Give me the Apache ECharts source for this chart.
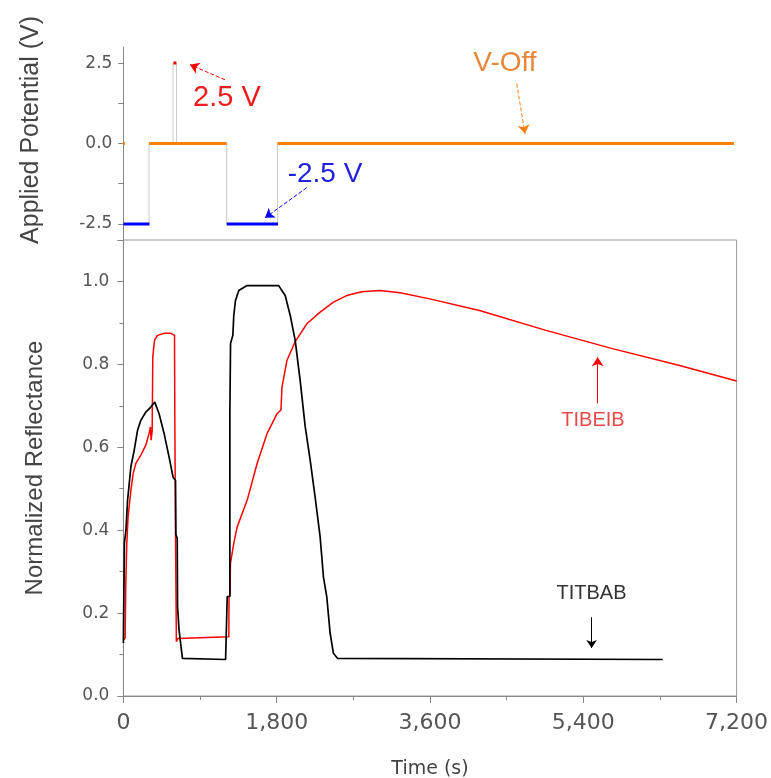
<!DOCTYPE html>
<html>
<head>
<meta charset="utf-8">
<script src="https://cdn.jsdelivr.net/npm/echarts@6/dist/echarts.min.js"></script>
<style>
  html, body { margin: 0; padding: 0; background: #fff; }
  #charts { width: 771px; height: 778px; }
</style>
</head>
<body>
<div id="charts"></div>
<script>
// applied potential: full step trace (thin gray) and the coloured levels on top
const potentialTrace = [[0, -2.5], [300, -2.5], [300, 0], [582, 0], [582, 2.5], [623, 2.5], [623, 0],
    [1213, 0], [1213, -2.5], [1809, -2.5], [1809, 0], [7169, 0]];
const offSpans = [[0, 20], [300, 1213], [1809, 7169]];      // 0 V
const negSpans = [[0, 306], [1213, 1815]];                   // -2.5 V
const posSpans = [[588, 622]];                               // 2.5 V

// normalized reflectance, [time (s), value]
const tibeib = [[0, 0.135], [20, 0.14], [29, 0.28], [40, 0.368], [55, 0.432], [88, 0.496], [115, 0.537],
    [146, 0.561], [205, 0.581], [263, 0.605], [302, 0.634], [318, 0.649], [325, 0.617], [338, 0.64],
    [345, 0.818], [365, 0.858], [400, 0.87], [480, 0.875], [560, 0.875], [600, 0.87], [604, 0.665],
    [612, 0.388], [622, 0.131], [640, 0.139], [1238, 0.143], [1240, 0.239], [1252, 0.245], [1257, 0.32],
    [1296, 0.368], [1336, 0.408], [1453, 0.472], [1570, 0.561], [1687, 0.633], [1804, 0.681], [1850, 0.69],
    [1862, 0.745], [1921, 0.81], [2018, 0.855], [2154, 0.898], [2310, 0.926], [2466, 0.95], [2622, 0.966],
    [2800, 0.975], [3012, 0.978], [3250, 0.973], [3597, 0.958], [4181, 0.93], [4962, 0.882], [5741, 0.838],
    [6520, 0.798], [7200, 0.76]];
const titbab = [[0, 0.128], [10, 0.13], [12, 0.37], [30, 0.40], [49, 0.472], [88, 0.553], [127, 0.593],
    [166, 0.641], [205, 0.665], [263, 0.685], [322, 0.697], [368, 0.709], [419, 0.681], [477, 0.634],
    [536, 0.577], [583, 0.528], [612, 0.52], [616, 0.39], [632, 0.38], [636, 0.215], [653, 0.16], [693, 0.091],
    [1200, 0.088], [1219, 0.087], [1219, 0.24], [1250, 0.24], [1250, 0.68], [1258, 0.68], [1258, 0.85],
    [1285, 0.87], [1296, 0.918], [1316, 0.954], [1355, 0.978], [1452, 0.99], [1823, 0.99], [1900, 0.966],
    [1959, 0.918], [2017, 0.858], [2076, 0.76], [2135, 0.649], [2193, 0.569], [2251, 0.48], [2310, 0.384],
    [2349, 0.287], [2388, 0.239], [2427, 0.152], [2466, 0.103], [2513, 0.091], [6333, 0.088]];

const xTicks = [0, 1800, 3600, 5400, 7200];
const potentialLabels = [-2.5, 0, 2.5];
const potentialTicks = [-2.5, -1.25, 0, 1.25, 2.5];

var chartDom = document.getElementById('charts');
var myChart = echarts.init(chartDom);

spansToData = (spans, level) => {
    let data = [];
    spans.forEach(s => {
        data = [...data, [s[0], level], [s[1], level], ['-', '-']];
    });
    return data;
};

const gray = '#888';
const tickFont = {fontFamily: 'DejaVu Sans', color: '#555'};
const nameFont = {fontFamily: 'Liberation Sans', color: '#444'};

textMark = (coord, text, color, size) => ({
    coord: coord,
    label: {show: true, position: 'inside', formatter: text, color: color, fontSize: size, fontFamily: 'Liberation Sans'}
});
arrow = (from, to, color, type) => [
    {coord: from, lineStyle: {color: color, type: type, width: 1}},
    {coord: to}
];

var option = {
    animation: false,
    grid: [
        {left: 123.4, top: 47, width: 613.2, height: 193, outerBoundsMode: 'none'},
        {left: 123.4, top: 240, width: 613.2, height: 456, show: true, borderColor: '#999', borderWidth: 1, outerBoundsMode: 'none'}
    ],
    xAxis: [
        {gridIndex: 0, type: 'value', min: 0, max: 7200, show: false},
        {
            gridIndex: 1, type: 'value', min: 0, max: 7200, interval: 1800,
            name: 'Time (s)', nameLocation: 'middle', nameGap: 64,
            nameTextStyle: {fontFamily: 'DejaVu Sans', fontSize: 19, color: '#444'},
            axisLine: {show: true, lineStyle: {color: gray}},
            axisTick: {show: true, length: 7, lineStyle: {color: gray}},
            minorTick: {show: true, splitNumber: 2, length: 4, lineStyle: {color: gray}},
            splitLine: {show: false},
            axisLabel: {...tickFont, fontSize: 22, margin: 16, formatter: v => v.toLocaleString('en-US')}
        }
    ],
    yAxis: [
        {
            gridIndex: 0, type: 'value', min: -3, max: 3,
            name: 'Applied Potential (V)', nameLocation: 'middle', nameGap: 80,
            nameTextStyle: {...nameFont, fontSize: 25, padding: [0, 0, 0, 27]},
            axisLine: {show: true, lineStyle: {color: gray}},
            axisTick: {show: true, length: 5, customValues: potentialTicks, lineStyle: {color: gray}},
            splitLine: {show: false},
            axisLabel: {...tickFont, fontSize: 17, margin: 11, customValues: potentialLabels, formatter: v => v.toFixed(1)}
        },
        {
            gridIndex: 1, type: 'value', min: 0, max: 1.1, interval: 0.2,
            name: 'Normalized Reflectance', nameLocation: 'middle', nameGap: 76,
            nameTextStyle: {...nameFont, fontSize: 24},
            axisLine: {show: true, lineStyle: {color: gray}},
            axisTick: {show: true, length: 6, lineStyle: {color: gray}},
            minorTick: {show: true, splitNumber: 2, length: 4, lineStyle: {color: gray}},
            splitLine: {show: false},
            axisLabel: {...tickFont, fontSize: 17, margin: 14, showMaxLabel: false, formatter: v => v.toFixed(1)}
        }
    ],
    series: [
        {
            name: 'trace', type: 'line', xAxisIndex: 0, yAxisIndex: 0, data: potentialTrace,
            showSymbol: false, lineStyle: {color: '#c8c8c8', width: 1}, silent: true,
            markPoint: {
                symbol: 'circle', symbolSize: 0, silent: true,
                data: [
                    textMark([1216, 1.43], '2.5 V', '#ee1c1c', 29),
                    textMark([2367, -0.95], '-2.5 V', '#2222dd', 28),
                    textMark([4480, 2.49], 'V-Off', '#e8873a', 28)
                ]
            },
            markLine: {
                symbol: ['none', 'arrow'], symbolSize: 9, silent: true, label: {show: false},
                data: [
                    arrow([1193, 1.98], [782, 2.45], '#ff0000', 'dashed'),
                    arrow([2152, -1.375], [1663, -2.31], '#0000ff', 'dashed'),
                    arrow([4618, 1.86], [4716, 0.30], '#ff7f0e', 'dashed')
                ]
            }
        },
        {
            name: 'off', type: 'line', xAxisIndex: 0, yAxisIndex: 0, data: spansToData(offSpans, 0),
            showSymbol: false, connectNulls: false, lineStyle: {color: '#ff8000', width: 3}
        },
        {
            name: 'neg', type: 'line', xAxisIndex: 0, yAxisIndex: 0, data: spansToData(negSpans, -2.5),
            showSymbol: false, connectNulls: false, lineStyle: {color: '#0000ff', width: 3}
        },
        {
            name: 'pos', type: 'line', xAxisIndex: 0, yAxisIndex: 0, data: spansToData(posSpans, 2.5),
            showSymbol: false, connectNulls: false, lineStyle: {color: '#ff0000', width: 3}
        },
        {
            name: 'TIBEIB', type: 'line', xAxisIndex: 1, yAxisIndex: 1, data: tibeib,
            showSymbol: false, lineStyle: {color: '#ff0000', width: 1.5},
            markPoint: {
                symbol: 'circle', symbolSize: 0, silent: true,
                data: [textMark([5514, 0.665], 'TIBEIB', '#e84a4a', 20)]
            },
            markLine: {
                symbol: ['none', 'arrow'], symbolSize: 9, silent: true, label: {show: false},
                data: [arrow([5569, 0.706], [5569, 0.817], '#ff0000', 'solid')]
            }
        },
        {
            name: 'TITBAB', type: 'line', xAxisIndex: 1, yAxisIndex: 1, data: titbab,
            showSymbol: false, lineStyle: {color: '#000000', width: 1.7},
            markPoint: {
                symbol: 'circle', symbolSize: 0, silent: true,
                data: [textMark([5496, 0.248], 'TITBAB', '#333333', 20)]
            },
            markLine: {
                symbol: ['none', 'arrow'], symbolSize: 8, silent: true, label: {show: false},
                data: [arrow([5498, 0.19], [5498, 0.116], '#000000', 'solid')]
            }
        }
    ]
};

myChart.setOption(option);
</script>
</body>
</html>
